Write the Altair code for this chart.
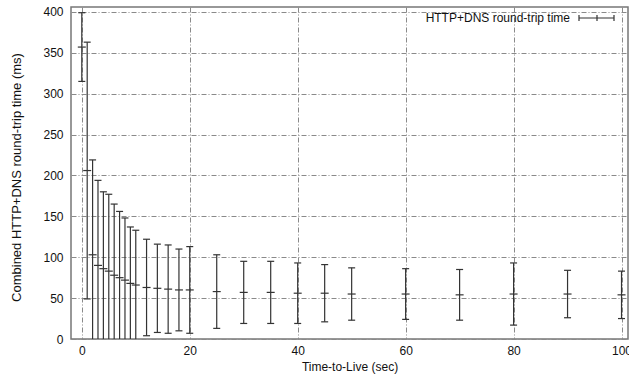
import altair as alt
import pandas as pd

# Time-to-Live values (sec)
ttl = [0, 1, 2, 3, 4, 5, 6, 7, 8, 9, 10, 12, 14, 16, 18, 20, 25, 30, 35, 40, 45, 50, 60, 70, 80, 90, 100]
# mean combined HTTP+DNS round-trip time (ms)
mean_ms = [357, 206, 103, 90, 86, 83, 78, 75, 72, 68, 66, 63, 62, 61, 60, 60, 58, 57, 57, 56, 56, 55, 55, 54, 55, 55, 54]
# error bar half-length (ms)
dev_ms = [42, 157, 116, 104, 94, 94, 87, 81, 76, 69, 67, 59, 54, 54, 50, 53, 45, 38, 38, 37, 35, 32, 31, 31, 38, 29, 29]

x_ticks = [0, 20, 40, 60, 80, 100]
y_ticks = [0, 50, 100, 150, 200, 250, 300, 350, 400]
legend_label = ["HTTP+DNS round-trip time"]

df = pd.DataFrame({"ttl": ttl, "mean": mean_ms, "dev": dev_ms})
df["low"] = df["mean"] - df["dev"]
df["high"] = df["mean"] + df["dev"]

W, H = 557, 332
FONT = "Liberation Sans"
BAR = "#333333"
GRID = "#8a8a8a"

xs = alt.Scale(domain=[-2, 101.2], nice=False, zero=False)
ys = alt.Scale(domain=[0, 406], nice=False)

x_axis = alt.Axis(
    values=x_ticks, title="Time-to-Live (sec)", grid=True, gridColor=GRID,
    gridDash=[5, 2, 1, 2], gridWidth=1, ticks=False, domain=False,
    labelFont=FONT, labelFontSize=12, labelColor="#111", labelPadding=6,
    titleFont=FONT, titleFontSize=12, titleFontWeight="normal", titleColor="#111",
    titleY=27, titleBaseline="middle",
)
y_axis = alt.Axis(
    values=y_ticks, title="Combined HTTP+DNS round-trip time (ms)", grid=True,
    gridColor=GRID, gridDash=[5, 2, 1, 2], gridWidth=1, ticks=False, domain=False,
    labelFont=FONT, labelFontSize=12, labelColor="#111", labelPadding=8,
    titleFont=FONT, titleFontSize=13, titleFontWeight="normal", titleColor="#111",
    titleX=-55, titleY=H / 2 + 4, titleAngle=270, titleBaseline="middle", titleAlign="center",
)

base = alt.Chart(df)

bars = base.mark_rule(color=BAR, strokeWidth=1.2, clip=True).encode(
    x=alt.X("ttl:Q", scale=xs, axis=x_axis),
    y=alt.Y("low:Q", scale=ys, axis=y_axis),
    y2="high:Q",
)

cap_shape = "M-1,0L1,0"
caps_hi = base.mark_point(shape=cap_shape, size=49, filled=False, color=BAR,
                          strokeWidth=1.2, opacity=1, clip=True).encode(
    x=alt.X("ttl:Q", scale=xs), y=alt.Y("high:Q", scale=ys))
caps_lo = base.mark_point(shape=cap_shape, size=49, filled=False, color=BAR,
                          strokeWidth=1.2, opacity=1, clip=True).encode(
    x=alt.X("ttl:Q", scale=xs), y=alt.Y("low:Q", scale=ys))
means = base.mark_point(shape=cap_shape, size=64, filled=False, color=BAR,
                        strokeWidth=1.2, opacity=1, clip=True).encode(
    x=alt.X("ttl:Q", scale=xs), y=alt.Y("mean:Q", scale=ys))

leg_df = pd.DataFrame({"label": legend_label})
leg_text = alt.Chart(leg_df).mark_text(
    align="right", baseline="middle", font=FONT, fontSize=12, color="#111"
).encode(x=alt.value(499), y=alt.value(11), text="label:N")
leg_line = alt.Chart(leg_df).mark_rule(color=BAR, strokeWidth=1.2).encode(
    x=alt.value(508), x2=alt.value(543), y=alt.value(11))
leg_c1 = alt.Chart(leg_df).mark_rule(color=BAR, strokeWidth=1.2).encode(
    x=alt.value(508), y=alt.value(8), y2=alt.value(14))
leg_c2 = alt.Chart(leg_df).mark_rule(color=BAR, strokeWidth=1.2).encode(
    x=alt.value(543), y=alt.value(8), y2=alt.value(14))
leg_c3 = alt.Chart(leg_df).mark_rule(color=BAR, strokeWidth=1.2).encode(
    x=alt.value(526), y=alt.value(8), y2=alt.value(14))

chart = alt.layer(
    bars, caps_hi, caps_lo, means, leg_text, leg_line, leg_c1, leg_c2, leg_c3
).properties(
    width=W, height=H,
    autosize=alt.AutoSizeParams(type="none"),
    padding={"left": 71, "top": 7, "right": 1, "bottom": 35},
    background="white",
).configure_view(stroke="#777777", strokeWidth=1.5)

chart.save("out.html", embed_options={"renderer": "svg", "actions": False})
